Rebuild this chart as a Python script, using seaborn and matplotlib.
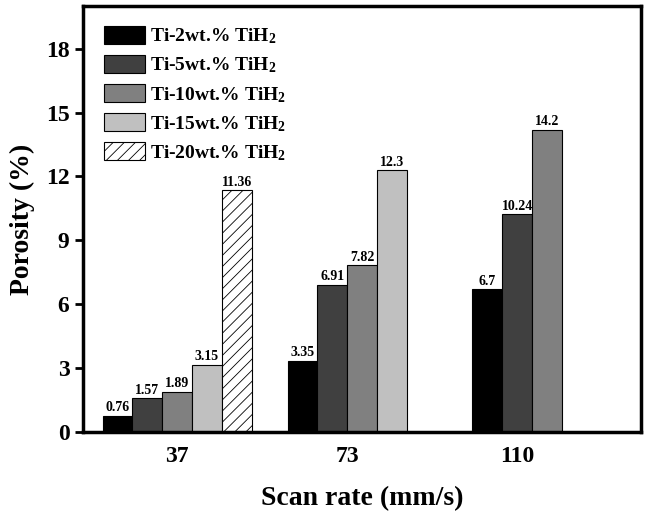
import pandas as pd
import matplotlib.pyplot as plt
import seaborn as sns

# data
scan_rates = ["37", "73", "110"]
series = ["Ti-2wt.% TiH$_2$", "Ti-5wt.% TiH$_2$", "Ti-10wt.% TiH$_2$",
          "Ti-15wt.% TiH$_2$", "Ti-20wt.% TiH$_2$"]
porosity_37 = [0.76, 1.57, 1.89, 3.15, 11.36]
porosity_73 = [3.35, 6.91, 7.82, 12.3]
porosity_110 = [6.7, 10.24, 14.2]
colors = ["#000000", "#404040", "#808080", "#c0c0c0", "#ffffff"]

sns.set_theme(style="ticks")
plt.rcParams["font.family"] = ["Liberation Serif", "DejaVu Serif"]
plt.rcParams["font.weight"] = "bold"
plt.rcParams["mathtext.default"] = "regular"
plt.rcParams["text.color"] = "black"
plt.rcParams["axes.labelcolor"] = "black"
plt.rcParams["xtick.color"] = "black"
plt.rcParams["ytick.color"] = "black"
plt.rcParams["axes.edgecolor"] = "black"
plt.rcParams["hatch.linewidth"] = 0.6

# build long table; bars of a group sit side by side, centred on the group
group_step = 5.7
rows = []
for g, vals in enumerate([porosity_37, porosity_73, porosity_110]):
    n = len(vals)
    for i, v in enumerate(vals):
        rows.append({"rate": scan_rates[g], "series": series[i], "value": v,
                     "pos": g * group_step + i - (n - 1) / 2})
df = pd.DataFrame(rows)

fig = plt.figure(figsize=(6.46, 5.16), dpi=100)
ax = fig.add_axes([0.128, 0.163, 0.864, 0.825])

sns.barplot(data=df, x="pos", y="value", hue="series", hue_order=series,
            palette=dict(zip(series, colors)), native_scale=True, dodge=False,
            width=1.0, errorbar=None, edgecolor="black", linewidth=0.8, ax=ax)

# hatch the Ti-20 bars
for bar in ax.containers[-1]:
    bar.set_hatch("///")
    bar.set_facecolor("white")

for cont in ax.containers:
    ax.bar_label(cont, fmt="%g", padding=1, fontsize=10, fontweight="bold")

ax.set_xlim(-3.17, 15.55)
ax.set_ylim(0, 20)
ax.set_xticks([g * group_step for g in range(len(scan_rates))])
ax.set_xticklabels(scan_rates)
ax.set_yticks(range(0, 19, 3))
ax.tick_params(axis="x", length=0, pad=10, labelsize=17)
ax.tick_params(axis="y", length=6, width=2, direction="out", labelsize=17)
for lab in ax.get_xticklabels() + ax.get_yticklabels():
    lab.set_fontweight("bold")
for sp in ax.spines.values():
    sp.set_linewidth(2.5)
    sp.set_visible(True)

ax.set_xlabel("Scan rate (mm/s)", fontsize=20, fontweight="bold", labelpad=14)
ax.set_ylabel("Porosity (%)", fontsize=20, fontweight="bold", labelpad=8)

leg = ax.legend(loc="upper left", frameon=False, fontsize=14,
                handlelength=2.1, handleheight=1.05, labelspacing=0.45,
                handletextpad=0.3, borderaxespad=0.4, bbox_to_anchor=(0.01, 0.99))
for h in leg.legend_handles:
    h.set_edgecolor("black")
    h.set_linewidth(0.8)
leg.legend_handles[-1].set_hatch("///")
for t in leg.get_texts():
    t.set_fontweight("bold")

fig.savefig("out.png", dpi=100)
